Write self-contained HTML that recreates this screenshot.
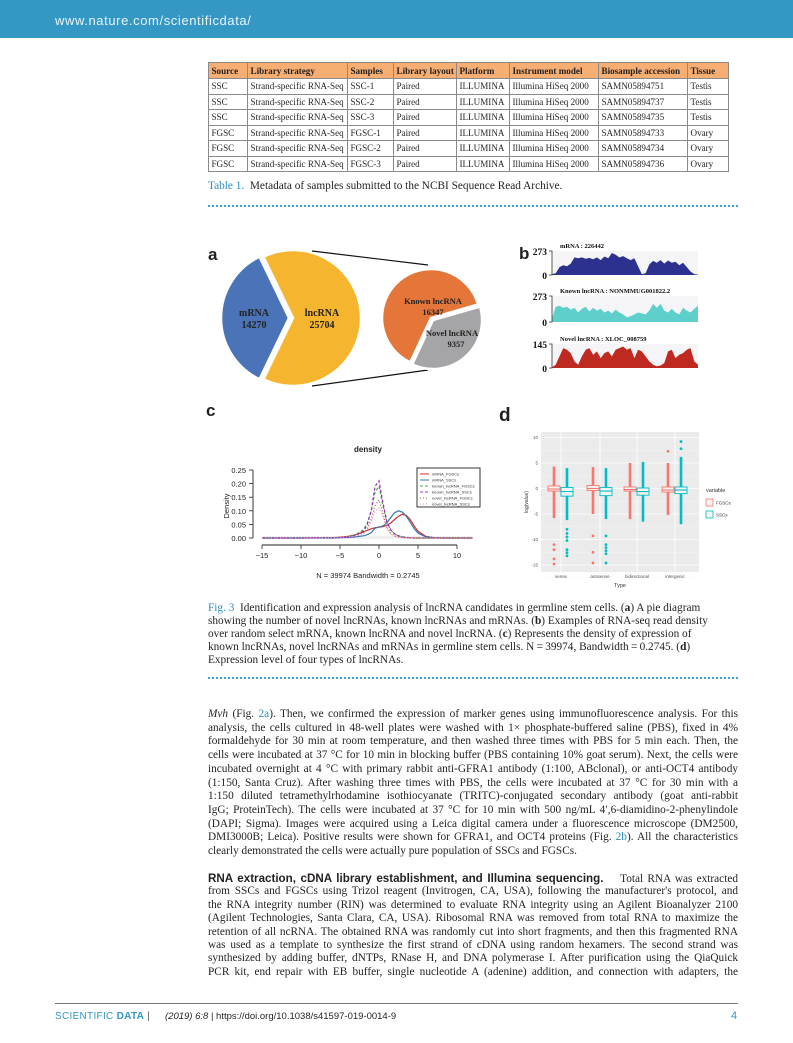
<!DOCTYPE html>
<html><head><meta charset="utf-8">
<style>
*{margin:0;padding:0;box-sizing:border-box}
body{width:793px;height:1043px;background:#fff;position:relative;overflow:hidden;font-family:"Liberation Serif",serif;color:#231f20}
.abs{position:absolute}
#hdr{left:0;top:0;width:793px;height:38px;background:#3497c4}
#hdr span{position:absolute;left:55px;top:13px;color:#e8f4fa;font-family:"Liberation Sans",sans-serif;font-size:13px;letter-spacing:0.6px}
table{position:absolute;left:208px;top:62px;width:520px;border-collapse:collapse;font-size:9.1px;table-layout:fixed}
td,th{border:1px solid #8a8a8a;height:15.5px;padding:0 0 0 2.5px;text-align:left;white-space:nowrap;overflow:hidden;line-height:14px}
th{background:#f7ae72;font-weight:bold;height:16px}
.cap{font-size:11.3px;line-height:13px;left:208px;width:540px}
.blue{color:#2a8fbf}
.dots{height:0;border-top:2px dotted #3ea0cf;left:208px;width:530px}
.ln{position:absolute;left:208px;width:530px;font-size:11.3px;line-height:13.6px;text-align:justify;text-align-last:justify;white-space:nowrap}
.ln.last{text-align-last:left}
.lbl{font-family:"Liberation Sans",sans-serif;font-weight:bold;font-size:17px;position:absolute}
</style></head><body>
<div id="hdr" class="abs"><span>www.nature.com/scientificdata/</span></div>

<table>
<colgroup><col style="width:39px"><col style="width:100px"><col style="width:46px"><col style="width:63px"><col style="width:53px"><col style="width:89px"><col style="width:89px"><col style="width:41px"></colgroup>
<tr><th>Source</th><th>Library strategy</th><th>Samples</th><th>Library layout</th><th>Platform</th><th>Instrument model</th><th>Biosample accession</th><th>Tissue</th></tr>
<tr><td>SSC</td><td>Strand-specific RNA-Seq</td><td>SSC-1</td><td>Paired</td><td>ILLUMINA</td><td>Illumina HiSeq 2000</td><td>SAMN05894751</td><td>Testis</td></tr>
<tr><td>SSC</td><td>Strand-specific RNA-Seq</td><td>SSC-2</td><td>Paired</td><td>ILLUMINA</td><td>Illumina HiSeq 2000</td><td>SAMN05894737</td><td>Testis</td></tr>
<tr><td>SSC</td><td>Strand-specific RNA-Seq</td><td>SSC-3</td><td>Paired</td><td>ILLUMINA</td><td>Illumina HiSeq 2000</td><td>SAMN05894735</td><td>Testis</td></tr>
<tr><td>FGSC</td><td>Strand-specific RNA-Seq</td><td>FGSC-1</td><td>Paired</td><td>ILLUMINA</td><td>Illumina HiSeq 2000</td><td>SAMN05894733</td><td>Ovary</td></tr>
<tr><td>FGSC</td><td>Strand-specific RNA-Seq</td><td>FGSC-2</td><td>Paired</td><td>ILLUMINA</td><td>Illumina HiSeq 2000</td><td>SAMN05894734</td><td>Ovary</td></tr>
<tr><td>FGSC</td><td>Strand-specific RNA-Seq</td><td>FGSC-3</td><td>Paired</td><td>ILLUMINA</td><td>Illumina HiSeq 2000</td><td>SAMN05894736</td><td>Ovary</td></tr>
</table>
<div class="abs cap" style="top:180px"><span class="blue">Table 1.</span>&nbsp; Metadata of samples submitted to the NCBI Sequence Read Archive.</div>
<div class="abs dots" style="top:205px"></div>

<svg id="fig" class="abs" style="left:0;top:0" width="793" height="600" font-family="Liberation Sans, sans-serif">
<g id="pieA"></g>
<g id="trackB"></g>
<g id="densC"></g>
<g id="boxD"></g>
</svg>
<div class="lbl" style="left:208px;top:245px">a</div>
<div class="lbl" style="left:519px;top:244px">b</div>
<div class="lbl" style="left:206px;top:401px">c</div>
<div class="lbl" style="left:499px;top:405px;font-size:19px">d</div>

<div class="abs cap" style="top:602px">
<span class="blue">Fig. 3</span>&nbsp; Identification and expression analysis of lncRNA candidates in germline stem cells. (<b>a</b>) A pie diagram<br>showing the number of novel lncRNAs, known lncRNAs and mRNAs. (<b>b</b>) Examples of RNA-seq read density<br>over random select mRNA, known lncRNA and novel lncRNA. (<b>c</b>) Represents the density of expression of<br>known lncRNAs, novel lncRNAs and mRNAs in germline stem cells. N&thinsp;=&thinsp;39974, Bandwidth&thinsp;=&thinsp;0.2745. (<b>d</b>)<br>Expression level of four types of lncRNAs.</div>
<div class="abs dots" style="top:677px"></div>

<div>
<div class="ln" style="top:708px"><i>Mvh</i> (Fig. <span class="blue">2a</span>). Then, we confirmed the expression of marker genes using immunofluorescence analysis. For this</div>
<div class="ln" style="top:721.7px">analysis, the cells cultured in 48-well plates were washed with 1× phosphate-buffered saline (PBS), fixed in 4%</div>
<div class="ln" style="top:735.4px">formaldehyde for 30 min at room temperature, and then washed three times with PBS for 5 min each. Then, the</div>
<div class="ln" style="top:749.1px">cells were incubated at 37 °C for 10 min in blocking buffer (PBS containing 10% goat serum). Next, the cells were</div>
<div class="ln" style="top:762.8px">incubated overnight at 4 °C with primary rabbit anti-GFRA1 antibody (1:100, ABclonal), or anti-OCT4 antibody</div>
<div class="ln" style="top:776.5px">(1:150, Santa Cruz). After washing three times with PBS, the cells were incubated at 37 °C for 30 min with a</div>
<div class="ln" style="top:790.2px">1:150 diluted tetramethylrhodamine isothiocyanate (TRITC)-conjugated secondary antibody (goat anti-rabbit</div>
<div class="ln" style="top:803.9px">IgG; ProteinTech). The cells were incubated at 37 °C for 10 min with 500 ng/mL 4′,6-diamidino-2-phenylindole</div>
<div class="ln" style="top:817.6px">(DAPI; Sigma). Images were acquired using a Leica digital camera under a fluorescence microscope (DM2500,</div>
<div class="ln" style="top:831.3px">DMI3000B; Leica). Positive results were shown for GFRA1, and OCT4 proteins (Fig. <span class="blue">2b</span>). All the characteristics</div>
<div class="ln last" style="top:845px">clearly demonstrated the cells were actually pure population of SSCs and FGSCs.</div>
</div>
<div>
<div class="ln" style="top:872px"><b style="font-family:'Liberation Sans',sans-serif;font-size:11.6px">RNA extraction, cDNA library establishment, and Illumina sequencing.</b>&nbsp;&nbsp;&nbsp; Total RNA was extracted</div>
<div class="ln" style="top:885.4px">from SSCs and FGSCs using Trizol reagent (Invitrogen, CA, USA), following the manufacturer's protocol, and</div>
<div class="ln" style="top:898.8px">the RNA integrity number (RIN) was determined to evaluate RNA integrity using an Agilent Bioanalyzer 2100</div>
<div class="ln" style="top:912.2px">(Agilent Technologies, Santa Clara, CA, USA). Ribosomal RNA was removed from total RNA to maximize the</div>
<div class="ln" style="top:925.6px">retention of all ncRNA. The obtained RNA was randomly cut into short fragments, and then this fragmented RNA</div>
<div class="ln" style="top:939px">was used as a template to synthesize the first strand of cDNA using random hexamers. The second strand was</div>
<div class="ln" style="top:952.4px">synthesized by adding buffer, dNTPs, RNase H, and DNA polymerase I. After purification using the QiaQuick</div>
<div class="ln" style="top:965.8px">PCR kit, end repair with EB buffer, single nucleotide A (adenine) addition, and connection with adapters, the</div>
</div>

<div class="abs" style="left:55px;top:1003px;width:683px;border-top:1px solid #777"></div>
<div class="abs" style="left:55px;top:1011px;font-family:'Liberation Sans',sans-serif;font-size:10px;color:#3497c4;letter-spacing:0.3px">SCIENTIFIC <b>DATA</b> <span style="color:#555">|</span></div>
<div class="abs" style="left:165px;top:1011px;font-family:'Liberation Sans',sans-serif;font-size:9.5px;color:#231f20"><i>(2019) 6:8</i> | https://doi.org/10.1038/s41597-019-0014-9</div>
<div class="abs" style="left:731px;top:1010px;font-family:'Liberation Sans',sans-serif;font-size:11px;color:#3497c4">4</div>

<script>
// ---------- data ----------
const pieBigLabels = ["mRNA","lncRNA"];
const pieBigValues = [14270, 25704];
const pieSmallLabels = ["Known lncRNA","Novel lncRNA"];
const pieSmallValues = [16347, 9357];

const trackNames = ["mRNA : 226442","Known lncRNA : NONMMUG001822.2","Novel lncRNA : XLOC_008759"];
const trackMax = [273, 273, 145];
const trackMRNA = [10,20,90,110,100,130,200,190,200,185,195,180,200,170,210,190,250,230,200,215,190,170,190,100,10,20,120,160,140,170,130,165,140,150,110,140,90,40,10,5];
const trackKnown = [40,160,170,150,160,130,150,100,140,160,110,150,120,140,100,120,90,130,100,80,50,60,80,100,90,80,120,190,150,190,120,100,140,100,80,150,120,100,140,170];
const trackNovel = [5,20,70,120,110,90,40,20,70,110,120,80,100,60,90,100,70,110,120,130,110,120,60,110,100,70,40,20,10,15,30,100,110,60,80,90,110,120,40,20];

const densX = [-15,-10,-6,-5,-4,-3,-2,-1.5,-1,-0.5,0,0.5,1,1.5,2,2.5,3,3.5,4,4.5,5,6,7,8,10,12];
const densMrnaF = [0,0,0.001,0.003,0.006,0.012,0.022,0.028,0.034,0.038,0.040,0.042,0.046,0.055,0.068,0.080,0.087,0.083,0.068,0.045,0.025,0.006,0.001,0,0,0];
const densMrnaS = [0,0,0,0.001,0.002,0.004,0.008,0.012,0.020,0.036,0.040,0.044,0.055,0.075,0.093,0.100,0.095,0.080,0.058,0.035,0.018,0.004,0.001,0,0,0];
const densKnownF = [0,0,0.001,0.002,0.005,0.012,0.030,0.055,0.100,0.170,0.190,0.120,0.060,0.030,0.015,0.008,0.004,0.002,0.001,0,0,0,0,0,0,0];
const densKnownS = [0,0,0.001,0.002,0.004,0.010,0.025,0.050,0.100,0.190,0.210,0.130,0.060,0.030,0.015,0.008,0.004,0.002,0.001,0,0,0,0,0,0,0];
const densNovelF = [0,0,0.001,0.002,0.004,0.008,0.018,0.035,0.070,0.120,0.140,0.090,0.040,0.018,0.008,0.004,0.002,0.001,0,0,0,0,0,0,0,0];
const densNovelS = [0,0,0.001,0.002,0.004,0.007,0.015,0.030,0.060,0.100,0.110,0.080,0.035,0.015,0.006,0.003,0.001,0,0,0,0,0,0,0,0,0];
const densNames = ["mRNA_FGSCs","mRNA_SSCs","known_lncRNA_FGSCs","known_lncRNA_SSCs","novel_lncRNA_FGSCs","novel_lncRNA_SSCs"];
const densXTicks = [-15,-10,-5,0,5,10];
const densYTicks = [0,0.05,0.10,0.15,0.20,0.25];

const boxCats = ["sense","antisense","bidirectional","intergenic"];
const fgMed = [-0.1, 0, -0.2, -0.3];
const fgQ1 = [-0.5, -0.4, -0.5, -0.7];
const fgQ3 = [0.5, 0.6, 0.3, 0.3];
const fgLo = [-5.8, -5, -6, -5.2];
const fgHi = [4.3, 4.2, 5, 5];
const fgOut = [[-11,-12,-13.8,-14.8],[-9.3,-12.5,-14.6],[],[7.3]];
const ssMed = [-0.6, -0.5, -0.6, -0.3];
const ssQ1 = [-1.5, -1.4, -1.3, -1];
const ssQ3 = [0.2, 0.2, 0.1, 0.3];
const ssLo = [-6.2, -6, -6.5, -7];
const ssHi = [4, 4, 5.2, 6.2];
const ssOut = [[-8,-8.8,-9.5,-10.2,-12,-12.6,-13.2],[-9.3,-11,-11.6,-12.2,-12.8,-14.6],[],[7.8,9.2]];
const boxYTicks = [10,5,0,-5,-10,-15];

// ---------- helpers ----------
const NS = "http://www.w3.org/2000/svg";
function mk(parent, tag, attrs, text){
  const e = document.createElementNS(NS, tag);
  for (const k in attrs) e.setAttribute(k, attrs[k]);
  if (text !== undefined) e.textContent = text;
  parent.appendChild(e);
  return e;
}
function rad(d){return d*Math.PI/180;}
function wedge(cx,cy,r,a0,a1){
  const x0=cx+r*Math.cos(rad(a0)), y0=cy+r*Math.sin(rad(a0));
  const x1=cx+r*Math.cos(rad(a1)), y1=cy+r*Math.sin(rad(a1));
  const large = (a1-a0)>180?1:0;
  return `M${cx},${cy} L${x0},${y0} A${r},${r} 0 ${large} 1 ${x1},${y1} Z`;
}

// ---------- panel a ----------
const gA = document.getElementById('pieA');
{
  const cx=292, cy=318, r=68;
  const tot = pieBigValues[0]+pieBigValues[1];
  const spanM = pieBigValues[0]/tot*360;
  const m0 = 180-spanM/2, m1 = 180+spanM/2;
  let el = mk(gA,'path',{d:wedge(cx-3,cy,r,m0,m1),fill:'#4b74b8',stroke:'#fff','stroke-width':2.5});
  
  
  el = mk(gA,'path',{d:wedge(cx+1,cy,r,m1,m0+360),fill:'#f6b52e',stroke:'#fff','stroke-width':2.5});
  
  
  el = mk(gA,'line',{x1:312,y1:251,x2:428,y2:265,stroke:'#111','stroke-width':1.2});
  
  
  el = mk(gA,'line',{x1:312,y1:386,x2:428,y2:370,stroke:'#111','stroke-width':1.2});
  
  
  const tS = {'font-family':'Liberation Serif, serif','font-weight':'bold','font-size':10,'text-anchor':'middle',fill:'#222'};
  el = mk(gA,'text',Object.assign({x:254,y:316},tS),pieBigLabels[0]);
  
  
  el = mk(gA,'text',Object.assign({x:254,y:328},tS),String(pieBigValues[0]));
  
  
  el = mk(gA,'text',Object.assign({x:322,y:316},tS),pieBigLabels[1]);
  
  
  el = mk(gA,'text',Object.assign({x:322,y:328},tS),String(pieBigValues[1]));
  
  

  const sx=431, sy=318, sr=49;
  const st = pieSmallValues[0]+pieSmallValues[1];
  const spanN = pieSmallValues[1]/st*360;
  const n0 = -16, n1 = n0+spanN;
  el = mk(gA,'path',{d:wedge(sx,sy,sr,n1,n0+360),fill:'#e5763a',stroke:'#fff','stroke-width':2.5});
  
  
  el = mk(gA,'path',{d:wedge(sx+2,sy+2,sr,n0,n1),fill:'#a5a4a6',stroke:'#fff','stroke-width':2.5});
  
  
  const tS2 = {'font-family':'Liberation Serif, serif','font-weight':'bold','font-size':8.5,'text-anchor':'middle',fill:'#222'};
  el = mk(gA,'text',Object.assign({x:433,y:304},tS2),pieSmallLabels[0]);
  
  
  el = mk(gA,'text',Object.assign({x:433,y:315},tS2),String(pieSmallValues[0]));
  
  
  el = mk(gA,'text',Object.assign({x:452,y:336},tS2),pieSmallLabels[1]);
  
  
  el = mk(gA,'text',Object.assign({x:456,y:347},tS2),String(pieSmallValues[1]));
  
  
}

// ---------- panel b ----------
const gB = document.getElementById('trackB');
{
  const series = [trackMRNA, trackKnown, trackNovel];
  const colors = ['#2c3190','#5fcfcc','#bf2a20'];
  const tops = [251, 296, 344];
  const bots = [275, 322, 368];
  const x0 = 552, x1 = 698;
  series.forEach((vals, i) => {
    const top = tops[i], bot = bots[i], mx = trackMax[i];
    const ys = v => bot - v/mx*(bot-top);
    const xs = j => x0 + j*(x1-x0)/(vals.length-1);
    let el = mk(gB,'rect',{x:x0,y:top,width:x1-x0,height:bot-top,fill:'#f5f5f7'});
    
    
    let d = `M${x0},${bot}`;
    vals.forEach((v,j)=>{ d += ` L${xs(j).toFixed(1)},${ys(v).toFixed(1)}`; });
    d += ` L${x1},${bot} Z`;
    el = mk(gB,'path',{d:d,fill:colors[i]});
    
    
    el = mk(gB,'path',{d:`M${x0-3},${top} H${x0} V${bot} H${x0-3}`,fill:'none',stroke:'#333','stroke-width':0.8});
    
    
    el = mk(gB,'text',{x:x0-5,y:top+4,'text-anchor':'end','font-family':'Liberation Serif, serif','font-weight':'bold','font-size':9.5,fill:'#111'},String(trackMax[i]));
    
    
    el = mk(gB,'text',{x:x0-5,y:bot+4,'text-anchor':'end','font-family':'Liberation Serif, serif','font-weight':'bold','font-size':9.5,fill:'#111'},'0');
    
    
    el = mk(gB,'text',{x:560,y:top-3,'font-family':'Liberation Serif, serif','font-weight':'bold','font-size':6.5,fill:'#111'},trackNames[i]);
    
    
  });
}

// ---------- panel c ----------
const gC = document.getElementById('densC');
{
  const xS = v => 379 + v*7.8;
  const yS = v => 538 - v*272;
  let el = mk(gC,'rect',{x:xS(-15),y:536,width:xS(12)-xS(-15),height:3,fill:'#eeeeee'});
  
  
  el = mk(gC,'line',{x1:253,y1:yS(0.25),x2:253,y2:yS(0),stroke:'#222','stroke-width':0.9});
  
  
  densYTicks.forEach(t=>{
    let e = mk(gC,'line',{x1:249,y1:yS(t),x2:253,y2:yS(t),stroke:'#222','stroke-width':0.8});
    
    
    e = mk(gC,'text',{x:246,y:yS(t)+3,'text-anchor':'end','font-size':7.5,fill:'#222'},t.toFixed(2));
    
    
  });
  el = mk(gC,'line',{x1:xS(-15),y1:545,x2:xS(10),y2:545,stroke:'#222','stroke-width':0.9});
  
  
  densXTicks.forEach(t=>{
    let e = mk(gC,'line',{x1:xS(t),y1:545,x2:xS(t),y2:549,stroke:'#222','stroke-width':0.8});
    
    
    e = mk(gC,'text',{x:xS(t),y:558,'text-anchor':'middle','font-size':7.5,fill:'#222'},(t<0?'\u2212'+Math.abs(t):String(t)));
    
    
  });
  el = mk(gC,'text',{x:229,y:506,'text-anchor':'middle','font-size':7.5,fill:'#222',transform:'rotate(-90 229 506)'},'Density');
  
  
  el = mk(gC,'text',{x:368,y:452,'text-anchor':'middle','font-size':8,'font-weight':'bold',fill:'#222'},'density');
  
  
  el = mk(gC,'text',{x:368,y:578,'text-anchor':'middle','font-size':7.5,fill:'#222'},'N = 39974   Bandwidth = 0.2745');
  
  
  const series = [densMrnaF, densMrnaS, densKnownF, densKnownS, densNovelF, densNovelS];
  const cols = ['#d7302a','#3a77b0','#4daf3f','#9a2fc0','#a3623c','#e58ac0'];
  const dashes = ['none','none','3,2','3,2','1,2','1,2'];
  series.forEach((vals,i)=>{
    let d='';
    vals.forEach((v,j)=>{ d += (j?' L':'M')+xS(densX[j]).toFixed(1)+','+yS(v).toFixed(1); });
    const e = mk(gC,'path',{d:d,fill:'none',stroke:cols[i],'stroke-width':1.2,'stroke-dasharray':dashes[i]});
    
    
  });
  el = mk(gC,'rect',{x:417,y:468,width:63,height:39,fill:'#fff',stroke:'#222','stroke-width':0.9});
  
  
  densNames.forEach((n,i)=>{
    const y = 474 + i*6;
    let e = mk(gC,'line',{x1:420,y1:y,x2:429,y2:y,stroke:cols[i],'stroke-width':1,'stroke-dasharray':dashes[i]});
    
    
    e = mk(gC,'text',{x:432,y:y+1.5,'font-size':4,fill:'#333'},n);
    
    
  });
}

// ---------- panel d ----------
const gD = document.getElementById('boxD');
{
  const yS = v => 488.5 - v*5.1;
  const catX = [561, 600, 637, 675];
  let el = mk(gD,'rect',{x:541,y:432,width:158,height:140,fill:'#ebebeb'});
  
  
  boxYTicks.forEach(t=>{
    let e = mk(gD,'line',{x1:541,y1:yS(t),x2:699,y2:yS(t),stroke:'#fff','stroke-width':0.8});
    
    
    e = mk(gD,'line',{x1:541,y1:yS(t-2.5),x2:699,y2:yS(t-2.5),stroke:'#f6f6f6','stroke-width':0.4});
    
    
    e = mk(gD,'text',{x:538,y:yS(t)+1.5,'text-anchor':'end','font-size':4.5,fill:'#555'},String(t));
    
    
  });
  boxCats.forEach((c,i)=>{
    let e = mk(gD,'line',{x1:catX[i],y1:432,x2:catX[i],y2:572,stroke:'#fff','stroke-width':0.8});
    
    
    e = mk(gD,'text',{x:catX[i],y:578,'text-anchor':'middle','font-size':4.5,fill:'#555'},c);
    
    
    const groups = [
      {x:catX[i]-7, col:'#f8766d', med:fgMed[i], q1:fgQ1[i], q3:fgQ3[i], lo:fgLo[i], hi:fgHi[i], out:fgOut[i], n:'fgscs'},
      {x:catX[i]+6, col:'#00bfc4', med:ssMed[i], q1:ssQ1[i], q3:ssQ3[i], lo:ssLo[i], hi:ssHi[i], out:ssOut[i], n:'sscs'}
    ];
    groups.forEach(g=>{
      let w = mk(gD,'line',{x1:g.x,y1:yS(g.hi),x2:g.x,y2:yS(g.q3),stroke:g.col,'stroke-width':2.6});
      
      
      w = mk(gD,'line',{x1:g.x,y1:yS(g.q1),x2:g.x,y2:yS(g.lo),stroke:g.col,'stroke-width':2.6});
      
      
      const b = mk(gD,'rect',{x:g.x-6,y:yS(g.q3),width:12,height:yS(g.q1)-yS(g.q3),fill:'#f4f4f4',stroke:g.col,'stroke-width':0.9});
      
      
      const m = mk(gD,'line',{x1:g.x-6,y1:yS(g.med),x2:g.x+6,y2:yS(g.med),stroke:g.col,'stroke-width':1.1});
      
      
      g.out.forEach(o=>{
        const p = mk(gD,'circle',{cx:g.x,cy:yS(o),r:1.4,fill:g.col});
        
        
      });
    });
  });
  el = mk(gD,'text',{x:620,y:587,'text-anchor':'middle','font-size':5.5,fill:'#333'},'Type');
  
  
  el = mk(gD,'text',{x:528,y:502,'text-anchor':'middle','font-size':5,fill:'#333',transform:'rotate(-90 528 502)'},'log(value)');
  
  
  el = mk(gD,'text',{x:706,y:492,'font-size':5.5,fill:'#333'},'variable');
  
  
  [['FGSCs','#f8766d',503],['SSCs','#00bfc4',515]].forEach(r=>{
    let e = mk(gD,'rect',{x:706,y:r[2]-4,width:7,height:7,fill:'#f4f4f4',stroke:r[1],'stroke-width':0.8});
    
    
    e = mk(gD,'text',{x:716,y:r[2]+1.5,'font-size':4.5,fill:'#333'},r[0]);
    
    
  });
}
</script>
</body></html>
